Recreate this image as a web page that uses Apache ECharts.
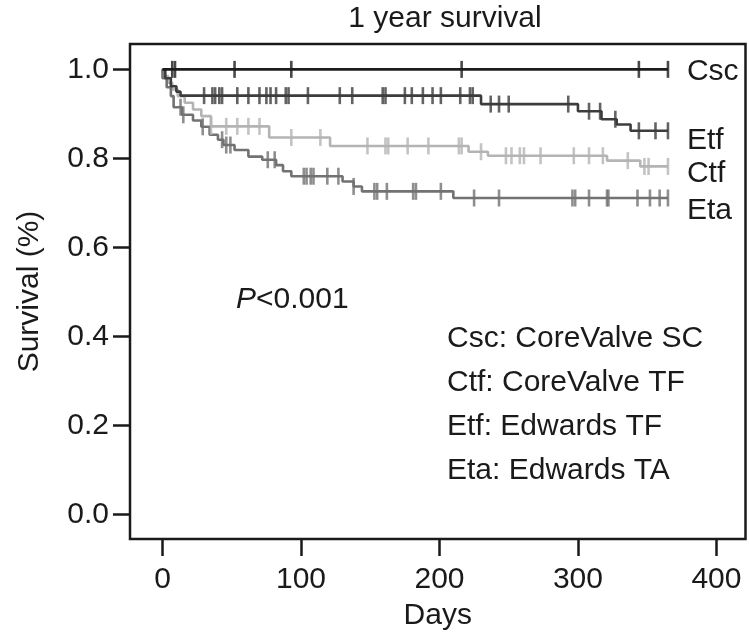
<!DOCTYPE html>
<html>
<head>
<meta charset="utf-8">
<script src="https://cdn.jsdelivr.net/npm/echarts@6/dist/echarts.min.js"></script>
<style>
  html, body { margin: 0; padding: 0; background: #fff; }
  #chart { width: 749px; height: 636px; }
</style>
</head>
<body>
<div id="chart"></div>
<script>
// ---- Data ----
const groupNames = ['Csc', 'Etf', 'Ctf', 'Eta'];
const followUpEnd = 365;

// Events: [day, survival after the event]
const cscEvents = [];
const etfEvents = [[2, 0.98], [6, 0.962], [10, 0.95], [13, 0.941], [230, 0.922], [300, 0.906], [317, 0.888], [328, 0.876], [338, 0.862]];
const ctfEvents = [[1, 0.985], [4, 0.97], [7, 0.955], [11, 0.94], [16, 0.925], [22, 0.91], [28, 0.895], [35, 0.872], [77, 0.847], [121, 0.828], [221, 0.815], [235, 0.806], [321, 0.795], [345, 0.782]];
const etaEvents = [[0, 0.98], [3, 0.96], [6, 0.94], [8, 0.915], [14, 0.898], [22, 0.885], [28, 0.871], [34, 0.853], [40, 0.842], [44, 0.83], [52, 0.819], [62, 0.804], [72, 0.797], [82, 0.785], [87, 0.771], [93, 0.76], [130, 0.748], [138, 0.737], [144, 0.726], [210, 0.711]];

// Censoring times (days)
const cscCensor = [7, 9, 52, 93, 216, 344, 365];
const etfCensor = [30, 36, 38, 41, 43, 54, 62, 70, 75, 78, 82, 89, 91, 105, 128, 137, 159, 161, 175, 180, 188, 195, 201, 215, 222, 224, 237, 243, 250, 293, 308, 316, 327, 344, 356, 365];
const ctfCensor = [35, 46, 54, 62, 70, 93, 114, 148, 161, 163, 177, 192, 214, 216, 230, 248, 252, 258, 261, 273, 297, 308, 318, 336, 348, 351, 365];
const etaCensor = [13, 15, 29, 43, 46, 49, 76, 81, 102, 104, 107, 109, 119, 127, 138, 153, 155, 162, 181, 183, 201, 225, 243, 296, 298, 308, 321, 322, 343, 352, 359, 365];

const xTicks = [0, 100, 200, 300, 400];
const yTicks = [0, 0.2, 0.4, 0.6, 0.8, 1.0];
const legendLines = ['Csc: CoreValve SC', 'Ctf: CoreValve TF', 'Etf: Edwards TF', 'Eta: Edwards TA'];
const pValueText = '<0.001';

// ---- Build ----
const groups = {
  Csc: { events: cscEvents, censor: cscCensor, color: '#1c1c1c', labelDy: 2 },
  Etf: { events: etfEvents, censor: etfCensor, color: '#3c3c3c', labelDy: 10 },
  Ctf: { events: ctfEvents, censor: ctfCensor, color: '#b4b4b4', labelDy: 7 },
  Eta: { events: etaEvents, censor: etaCensor, color: '#727272', labelDy: 13 }
};

function stepData(events) {
  const d = [[0, 1]];
  events.forEach(e => d.push([e[0], e[1]]));
  const last = d[d.length - 1][1];
  d.push([followUpEnd, last]);
  return d;
}
function survAt(events, t) {
  let s = 1;
  events.forEach(e => { if (e[0] <= t) s = e[1]; });
  return s;
}

const FONT = '"Liberation Sans", Arial, Helvetica, sans-serif';
const FS = 30;
const series = [];
['Ctf', 'Eta', 'Etf', 'Csc'].forEach(name => {
  const g = groups[name];
  series.push({
    name: name,
    type: 'line',
    step: 'end',
    data: stepData(g.events),
    showSymbol: false,
    symbol: 'none',
    lineStyle: { color: g.color, width: 2.6 },
    z: 3,
    animation: false,
    endLabel: {
      show: true,
      formatter: name,
      color: '#1a1a1a',
      fontFamily: FONT,
      fontSize: FS,
      distance: 19,
      offset: [0, g.labelDy]
    }
  });
  series.push({
    name: name + ' censored',
    type: 'scatter',
    data: g.censor.map(t => [t, survAt(g.events, t)]),
    symbol: 'rect',
    symbolSize: [2.6, 17],
    itemStyle: { color: g.color },
    z: 4,
    animation: false,
    silent: true
  });
});

const chart = echarts.init(document.getElementById('chart'), null, { renderer: 'canvas' });
chart.setOption({
  backgroundColor: '#ffffff',
  animation: false,
  grid: {
    left: 130, right: 3.5, top: 44, bottom: 97,
    containLabel: false,
    outerBoundsMode: 'none',
    show: true, borderColor: '#1a1a1a', borderWidth: 2.5, backgroundColor: 'transparent'
  },
  xAxis: {
    type: 'value',
    min: -23.5, max: 421,
    position: 'bottom',
    name: 'Days',
    nameLocation: 'middle',
    nameGap: 62,
    nameTextStyle: { fontFamily: FONT, fontSize: FS, color: '#1a1a1a' },
    axisLine: { show: false, onZero: false },
    splitLine: { show: false },
    axisTick: { show: true, inside: false, customValues: xTicks, length: 17, lineStyle: { color: '#1a1a1a', width: 2.5 } },
    axisLabel: { customValues: xTicks, margin: 26, fontFamily: FONT, fontSize: FS, color: '#1a1a1a' }
  },
  yAxis: {
    type: 'value',
    min: -0.055, max: 1.057,
    position: 'left',
    name: 'Survival (%)',
    nameLocation: 'middle',
    nameGap: 85,
    nameTextStyle: { fontFamily: FONT, fontSize: FS, color: '#1a1a1a' },
    axisLine: { show: false, onZero: false },
    splitLine: { show: false },
    axisTick: { show: true, inside: false, customValues: yTicks, length: 17, lineStyle: { color: '#1a1a1a', width: 2.5 } },
    axisLabel: { customValues: yTicks, margin: 21, fontFamily: FONT, fontSize: FS, color: '#1a1a1a',
      formatter: v => v.toFixed(1) }
  },
  graphic: [
    {
      type: 'text', x: 445, y: 4,
      style: { text: '1 year survival', fontFamily: FONT, fontSize: FS, fill: '#1a1a1a', align: 'center', verticalAlign: 'top' }
    },
    {
      type: 'text', x: 236, y: 285,
      style: {
        text: '{i|P}{n|' + pValueText + '}',
        verticalAlign: 'top',
        rich: {
          i: { fontFamily: FONT, fontSize: FS, fontStyle: 'italic', fill: '#1a1a1a' },
          n: { fontFamily: FONT, fontSize: FS, fill: '#1a1a1a' }
        }
      }
    },
    {
      type: 'text', x: 447, y: 317,
      style: { text: legendLines.join('\n'), fontFamily: FONT, fontSize: FS, lineHeight: 44, fill: '#1a1a1a', verticalAlign: 'top' }
    }
  ],
  series: series
});
</script>
</body>
</html>
